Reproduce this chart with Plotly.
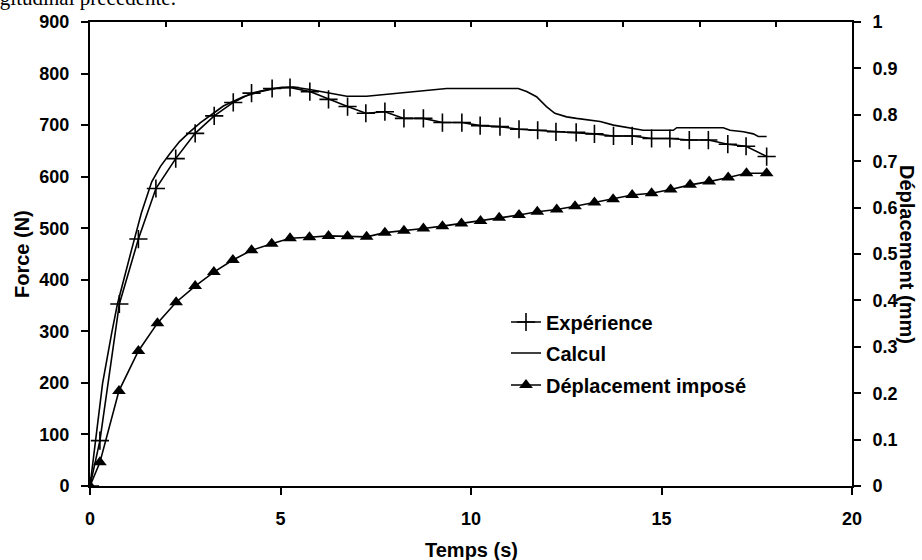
import plotly.graph_objects as go

# ---- data ----
exp_t = [0, 0.26, 0.77, 1.27, 1.73, 2.25, 2.76, 3.26, 3.76, 4.24, 4.78, 5.25, 5.77, 6.26,
         6.76, 7.24, 7.74, 8.24, 8.75, 9.25, 9.76, 10.24, 10.76, 11.26, 11.75, 12.23, 12.76,
         13.24, 13.74, 14.23, 14.74, 15.22, 15.73, 16.23, 16.74, 17.22, 17.76]
exp_f = [0, 88, 353, 479, 577, 635, 684, 718, 744, 762, 771, 773, 765, 750,
         736, 723, 726, 713, 713, 705, 705, 699, 697, 692, 690, 687, 686,
         683, 679, 679, 674, 674, 671, 671, 663, 659, 639]

calc_t = [0, 0.22, 0.33, 0.57, 0.72, 1.09, 1.35, 1.62, 1.85, 2.1, 2.35, 2.62, 2.9, 3.24, 3.5,
          4.02, 4.46, 4.99, 5.34, 5.77, 6.26, 6.74, 7.26, 7.78, 8.57, 9.36, 11.24, 11.46,
          11.72, 11.98, 12.2, 12.51, 12.77, 13.03, 13.39, 13.74, 14.17, 14.52, 15.31, 15.4,
          16.62, 16.8, 17.15, 17.41, 17.54, 17.76]
calc_f = [0, 134, 199, 297, 353, 458, 530, 590, 620, 645, 668, 687, 705, 723, 737,
          755, 765, 773, 774, 769, 763, 756, 756, 760, 765, 771, 771, 765,
          755, 736, 723, 716, 713, 711, 707, 700, 694, 690, 690, 695,
          695, 690, 687, 683, 678, 678]

dep_t = [0, 0.26, 0.76, 1.27, 1.77, 2.26, 2.76, 3.25, 3.75, 4.24, 4.77, 5.25, 5.76, 6.26,
         6.76, 7.26, 7.74, 8.24, 8.75, 9.25, 9.75, 10.25, 10.74, 11.26, 11.74, 12.25, 12.73,
         13.24, 13.73, 14.23, 14.74, 15.24, 15.75, 16.25, 16.75, 17.23, 17.76]
dep_mm = [0, 0.051, 0.205, 0.291, 0.351, 0.396, 0.431, 0.461, 0.487, 0.508, 0.522, 0.534,
          0.536, 0.539, 0.538, 0.537, 0.546, 0.550, 0.555, 0.560, 0.566, 0.571, 0.578, 0.584,
          0.591, 0.596, 0.603, 0.611, 0.618, 0.627, 0.631, 0.639, 0.649, 0.656, 0.665, 0.674,
          0.674]

FONT = "Arial, 'Liberation Sans', sans-serif"
BLK = "black"

fig = go.Figure()

fig.add_trace(go.Scatter(
    x=exp_t, y=exp_f, name="Expérience", mode="lines+markers",
    line=dict(color=BLK, width=1.6),
    marker=dict(symbol="cross-thin", size=13, color=BLK, line=dict(color=BLK, width=1.6)),
    legend="legend",
))
fig.add_trace(go.Scatter(
    x=calc_t, y=calc_f, name="Calcul", mode="lines",
    line=dict(color=BLK, width=1.6),
    legend="legend2",
))
fig.add_trace(go.Scatter(
    x=dep_t, y=dep_mm, name="Déplacement imposé", mode="lines+markers",
    line=dict(color=BLK, width=1.6),
    marker=dict(symbol="triangle-up", size=12, color=BLK),
    yaxis="y2", legend="legend3",
))
# dummy trace to activate the top axis
fig.add_trace(go.Scatter(x=[None], y=[None], xaxis="x2", yaxis="y",
                         showlegend=False, hoverinfo="skip"))

tickfont = dict(family=FONT, size=18, color=BLK, weight="bold")
titlefont = dict(family=FONT, size=20, color=BLK, weight="bold")

def leg(y):
    return dict(x=(506 - 90) / 762, y=(486 - y) / 464, xanchor="left", yanchor="middle",
                bgcolor="rgba(0,0,0,0)", borderwidth=0,
                font=dict(family=FONT, size=20, color=BLK, weight="bold"),
                itemwidth=30, tracegroupgap=0)

fig.update_layout(
    width=922, height=560,
    margin=dict(l=90, r=70, t=22, b=74, autoexpand=False),
    paper_bgcolor="white", plot_bgcolor="white",
    showlegend=True,
    legend=leg(322), legend2=leg(353), legend3=leg(385),
    xaxis=dict(range=[0, 20], dtick=5, tick0=0, showgrid=False, zeroline=False,
               showline=True, linecolor=BLK, linewidth=2, ticks="outside", ticklen=7,
               tickwidth=1.5, tickcolor=BLK, tickfont=tickfont, ticklabelstandoff=8),
    xaxis2=dict(range=[0, 20], dtick=2, tick0=0, overlaying="x", side="top", anchor="y",
                showgrid=False, zeroline=False, showline=True, linecolor=BLK, linewidth=2,
                ticks="inside", ticklen=5, tickwidth=1.5, tickcolor=BLK,
                showticklabels=False),
    yaxis=dict(range=[0, 900], dtick=100, tick0=0, showgrid=False, zeroline=False,
               showline=True, linecolor=BLK, linewidth=2, ticks="outside", ticklen=7,
               tickwidth=1.5, tickcolor=BLK, tickfont=tickfont, ticklabelstandoff=8),
    yaxis2=dict(range=[0, 1], dtick=0.1, tick0=0, overlaying="y", side="right", anchor="x",
                showgrid=False, zeroline=False, showline=True, linecolor=BLK, linewidth=2,
                ticks="outside", ticklen=7, tickwidth=1.5, tickcolor=BLK,
                tickfont=tickfont, ticklabelstandoff=8),
    annotations=[
        dict(text="Temps (s)", xref="paper", yref="paper", x=0.5, y=(486 - 550) / 464,
             showarrow=False, xanchor="center", yanchor="middle", font=titlefont),
        dict(text="Force (N)", xref="paper", yref="paper", x=(22 - 90) / 762,
             y=(486 - 254) / 464, showarrow=False, textangle=-90,
             xanchor="center", yanchor="middle", font=titlefont),
        dict(text="Déplacement (mm)", xref="paper", yref="paper", x=(907 - 90) / 762,
             y=(486 - 254) / 464, showarrow=False, textangle=90,
             xanchor="center", yanchor="middle", font=titlefont),
        dict(text="longitudinal précédente.", xref="paper", yref="paper",
             x=(178 - 90) / 762, y=(486 - 12) / 464, showarrow=False,
             xanchor="right", yanchor="bottom",
             font=dict(family="'Liberation Serif', 'Times New Roman', serif", size=21,
                       color=BLK)),
    ],
)

fig.write_html("out.html", config={"displayModeBar": False},
               post_script="document.body.style.margin='0';document.body.style.overflow='hidden';")
